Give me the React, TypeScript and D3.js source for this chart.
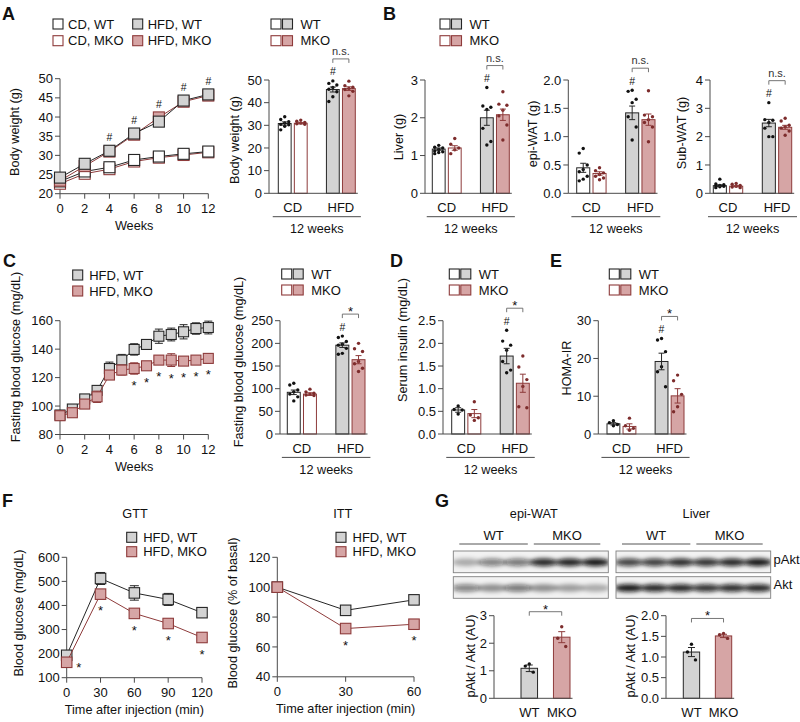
import React from "react";
import * as d3 from "d3";

const FONT = "'Liberation Sans', Arial, Helvetica, sans-serif";
const GRAY = "#d3d3d3";
const PINK = "#d6a5a5";
const RED = "#8e3b3b";
const DOTRED = "#7d2c2c";
const BLACK = "#262626";
const AXIS = "#4a4a4a";

// ---------- Panel A: body weight over time ----------
const weeksA = [0, 2, 4, 6, 8, 10, 12];
const bwCdWt = [23.2, 25.8, 26.9, 28.8, 29.7, 30.4, 31.0];
const bwCdWtErr = [0.6, 0.5, 0.5, 0.5, 0.5, 0.5, 0.6];
const bwCdMko = [22.6, 25.2, 26.4, 28.4, 29.4, 30.1, 30.8];
const bwCdMkoErr = [0.5, 0.4, 0.4, 0.4, 0.4, 0.4, 0.5];
const bwHfdWt = [24.2, 27.8, 31.2, 35.7, 38.8, 44.3, 45.9];
const bwHfdWtErr = [0.7, 0.7, 0.8, 0.9, 1.0, 1.0, 1.1];
const bwHfdMko = [23.4, 27.2, 31.0, 35.4, 39.9, 44.0, 45.6];
const bwHfdMkoErr = [0.6, 0.6, 0.7, 0.8, 0.9, 0.9, 0.8];
const bwHashWeeks = [4, 6, 8, 10, 12];

// Panel A: body weight at 12 weeks (CD-WT, CD-MKO, HFD-WT, HFD-MKO)
const bw12Means = [30.8, 30.9, 45.8, 46.2];
const bw12Errs = [0.7, 0.3, 1.1, 0.8];
const bw12Dots = [
  [33.8, 32.6, 31.6, 31.0, 30.4, 30.2, 29.6, 28.0],
  [32.3, 31.8, 31.3, 31.0, 30.7, 30.5],
  [49.6, 48.5, 47.8, 46.7, 45.9, 44.8, 42.6, 40.5],
  [49.5, 47.5, 46.8, 46.3, 45.8, 45.0, 43.0],
];

// Panel B
const liverMeans = [1.17, 1.2, 2.0, 2.08];
const liverErrs = [0.03, 0.06, 0.2, 0.15];
const liverDots = [
  [1.27, 1.22, 1.2, 1.16, 1.12, 1.1, 1.08, 1.05],
  [1.45, 1.3, 1.2, 1.15, 1.05],
  [2.8, 2.31, 2.28, 2.22, 1.72, 1.37, 1.28],
  [2.69, 2.36, 2.33, 2.2, 2.05, 1.81, 1.41],
];
const epiMeans = [0.45, 0.35, 1.42, 1.3];
const epiErrs = [0.08, 0.03, 0.12, 0.1];
const epiDots = [
  [0.79, 0.71, 0.5, 0.42, 0.38, 0.3, 0.25, 0.22],
  [0.45, 0.4, 0.36, 0.33, 0.3, 0.27, 0.24],
  [1.82, 1.8, 1.66, 1.6, 1.35, 1.17, 0.94],
  [1.81, 1.38, 1.35, 1.3, 1.25, 1.17, 0.91],
];
const subMeans = [0.27, 0.25, 2.48, 2.33];
const subErrs = [0.03, 0.02, 0.13, 0.07];
const subDots = [
  [0.5, 0.33, 0.3, 0.28, 0.26, 0.25, 0.23, 0.2],
  [0.35, 0.32, 0.28, 0.25, 0.22, 0.2],
  [3.2, 2.6, 2.58, 2.5, 2.3, 2.0, 2.0],
  [2.65, 2.55, 2.4, 2.35, 2.3, 2.2, 2.05],
];

// Panel C: fasting blood glucose weekly
const weeksC = [0, 1, 2, 3, 4, 5, 6, 7, 8, 9, 10, 11, 12];
const fbgWt = [93.7, 97.9, 105, 111, 126.4, 132.3, 139.8, 143.3, 149.1, 150.3, 152.2, 154.5, 155.2];
const fbgWtErr = [3, 2.5, 2, 2.5, 4.5, 4, 4, 2.5, 5, 4.5, 5, 4, 4.5];
const fbgMko = [93.2, 95.3, 101.4, 106.5, 121.8, 125.3, 126.4, 128.3, 132.3, 132.3, 131.6, 132.3, 133.5];
const fbgMkoErr = [3, 2, 2, 4, 3, 3.5, 4, 2.5, 3, 4.5, 3, 2, 3];
const fbgStarWeeks = [6, 7, 8, 9, 10, 11, 12];

const fbg12Means = [92, 88, 196, 164];
const fbg12Errs = [5, 3, 5, 9];
const fbg12Dots = [
  [112, 108, 97, 93, 88, 82, 73],
  [99, 93, 90, 88, 86, 85],
  [216, 213, 204, 198, 196, 189, 178, 176],
  [200, 188, 182, 160, 155, 145, 138],
];

// Panel D: serum insulin
const insMeans = [0.53, 0.45, 1.72, 1.12];
const insErrs = [0.05, 0.09, 0.17, 0.2];
const insDots = [
  [0.62, 0.54, 0.53, 0.44],
  [0.71, 0.42, 0.36, 0.3],
  [2.29, 2.05, 1.96, 1.85, 1.6, 1.41, 1.35],
  [1.72, 1.48, 1.2, 1.05, 0.6, 0.58],
];

// Panel E: HOMA-IR
const homaMeans = [2.7, 2.0, 19.2, 10.1];
const homaErrs = [0.3, 0.7, 2.2, 1.9];
const homaDots = [
  [3.5, 3.0, 2.5, 2.2],
  [4.2, 2.2, 1.5, 1.0],
  [25.3, 24.9, 21.8, 17.8, 16.5, 12.5],
  [15.6, 14.1, 10.5, 7.2, 5.9],
];

// Panel F: GTT / ITT
const tGtt = [0, 30, 60, 90, 120];
const gttWt = [193, 512, 452, 425, 370];
const gttWtErr = [10, 25, 30, 25, 18];
const gttMko = [164, 447, 367, 325, 267];
const gttMkoErr = [12, 15, 10, 8, 10];
const tItt = [0, 30, 60];
const ittWt = [100, 84.5, 91.5];
const ittWtErr = [0, 2.5, 3];
const ittMko = [100, 72.3, 75.2];
const ittMkoErr = [0, 2, 1.5];

// Panel G: western blot band intensities (6 lanes: 3 WT, 3 MKO) and quantification
const epiPakt = [0.3, 0.5, 0.55, 0.9, 0.92, 0.97];
const epiAkt = [0.5, 0.42, 0.55, 0.42, 0.36, 0.3];
const livPakt = [0.78, 0.8, 0.88, 0.85, 0.9, 0.97];
const livAkt = [0.97, 0.9, 0.9, 0.85, 0.88, 0.9];
const gEpiMeans = [1.09, 2.22];
const gEpiErrs = [0.12, 0.2];
const gEpiDots = [[1.25, 1.17, 0.95], [2.6, 2.18, 1.88]];
const gLivMeans = [1.12, 1.51];
const gLivErrs = [0.11, 0.04];
const gLivDots = [[1.31, 1.12, 0.93], [1.57, 1.54, 1.45]];

// ---------- styles ----------
type Sty = { fill: string; stroke: string; dot: string };
const S_CDWT: Sty = { fill: "#ffffff", stroke: BLACK, dot: "#111" };
const S_CDMKO: Sty = { fill: "#ffffff", stroke: RED, dot: DOTRED };
const S_HWT: Sty = { fill: GRAY, stroke: BLACK, dot: "#111" };
const S_HMKO: Sty = { fill: PINK, stroke: RED, dot: DOTRED };
const STYS = [S_CDWT, S_CDMKO, S_HWT, S_HMKO];
const KEYS: [string, string][] = [["CD", "WT"], ["CD", "MKO"], ["HFD", "WT"], ["HFD", "MKO"]];
const JIT = [0, -4, 4];
const FS = 13;

function Txt({ x, y, s = FS, a = "start", w = 400, fill = "#111", rot = false, children }: any) {
  const t = rot ? `translate(${x},${y}) rotate(-90)` : undefined;
  return (
    <text x={rot ? 0 : x} y={rot ? 0 : y} transform={t} fontSize={s} textAnchor={a}
      fontWeight={w} fill={fill} fontFamily={FONT}>{children}</text>
  );
}

function YAxis({ x, scale, ticks, fmt }: any) {
  const r = scale.range();
  return (
    <g>
      <line x1={x} x2={x} y1={r[0]} y2={r[1]} stroke={AXIS} strokeWidth={1} />
      {ticks.map((t: number) => (
        <g key={t}>
          <line x1={x - 5} x2={x} y1={scale(t)} y2={scale(t)} stroke={AXIS} />
          <Txt x={x - 7} y={scale(t) + 4.6} a="end">{fmt(t)}</Txt>
        </g>
      ))}
    </g>
  );
}

function Legend({ x, y, sq, label, gap = 5, size = 10 }: any) {
  const end = x + sq.length * size + (sq.length - 1) * 1.5;
  return (
    <g>
      {sq.map((s: Sty, i: number) => (
        <rect key={i} x={x + i * (size + 1.5)} y={y} width={size} height={size}
          fill={s.fill} stroke={s.stroke} strokeWidth={1.1} />
      ))}
      <Txt x={end + gap} y={y + 9.6}>{label}</Txt>
    </g>
  );
}

function ErrBar({ x, y1, y2, color, cap = 3.5 }: any) {
  return (
    <g stroke={color} strokeWidth={1}>
      <line x1={x} x2={x} y1={y1} y2={y2} />
      <line x1={x - cap} x2={x + cap} y1={y1} y2={y1} />
      <line x1={x - cap} x2={x + cap} y1={y2} y2={y2} />
    </g>
  );
}

type Series = { y: number[]; err: number[]; sty: Sty };

function LineChart(p: any) {
  const x = d3.scaleLinear().domain(p.xDomain).range(p.xRange);
  const y = d3.scaleLinear().domain(p.yDomain).range(p.yRange);
  const y0 = p.yRange[0];
  const x0 = p.xRange[0];
  const h = p.m / 2;
  const fmt = d3.format("d");
  const series: Series[] = p.series;
  const idx = (v: number) => p.xs.indexOf(v);
  return (
    <g>
      <YAxis x={x0} scale={y} ticks={p.yTicks} fmt={fmt} />
      <line x1={x0} x2={p.xRange[1]} y1={y0} y2={y0} stroke={AXIS} />
      {p.xTicks.map((t: number) => (
        <g key={t}>
          <line x1={x(t)} x2={x(t)} y1={y0} y2={y0 + 5} stroke={AXIS} />
          <Txt x={x(t)} y={y0 + 19} a="middle">{t}</Txt>
        </g>
      ))}
      <Txt x={p.xLabelX ?? (p.xRange[0] + p.xRange[1]) / 2} y={y0 + 36.3} a="middle" s={12.7}>{p.xLabel}</Txt>
      <Txt x={p.yLabelX} y={p.yLabelY} a="middle" rot s={12.7}>{p.yLabel}</Txt>
      {series.map((s, k) => {
        const line = d3.line<number>().x((_, i) => x(p.xs[i])).y((v) => y(v));
        return (
          <g key={k}>
            <path d={line(s.y) || ""} fill="none" stroke={s.sty.stroke} strokeWidth={1} />
            {s.y.map((v, i) =>
              s.err[i] > 0 ? (
                <ErrBar key={"e" + i} x={x(p.xs[i])} y1={y(v + s.err[i])} y2={y(v - s.err[i])}
                  color={s.sty.stroke} cap={p.cap ?? 4} />
              ) : null
            )}
            {s.y.map((v, i) => (
              <rect key={"r" + i} x={x(p.xs[i]) - h} y={y(v) - h} width={p.m} height={p.m}
                fill={s.sty.fill} stroke={s.sty.stroke} strokeWidth={1.1} />
            ))}
          </g>
        );
      })}
      {(p.hashes || []).map((w: number) => {
        const i = idx(w);
        const top = d3.min(series, (s) => Math.min(y(s.y[i]) - h, y(s.y[i] + s.err[i])))!;
        return <Txt key={"h" + w} x={x(w)} y={top - 4} a="middle" s={10.5}>#</Txt>;
      })}
      {(p.stars || []).map((st: any) => {
        const i = idx(st.x);
        const s = series[p.starSeries];
        const v = s.y[i];
        if (st.right) {
          return <Txt key={"s" + st.x} x={x(st.x) + 12} y={y(v) + 10} a="middle" s={13}>*</Txt>;
        }
        const bottom = Math.max(y(v) + h, y(v - s.err[i]));
        return <Txt key={"s" + st.x} x={x(st.x)} y={bottom + 16} a="middle" s={13}>*</Txt>;
      })}
    </g>
  );
}

function Dots({ cx, vals, scale, color }: any) {
  const sorted = [...vals].sort((a: number, b: number) => b - a);
  return (
    <g>
      {sorted.map((v: number, i: number) => (
        <circle key={i} cx={cx + JIT[i % 3]} cy={scale(v)} r={1.7} fill={color} />
      ))}
    </g>
  );
}

function Bracket({ x1, x2, y, label }: any) {
  const ns = label === "n.s.";
  return (
    <g>
      <path d={`M${x1},${y + 4}V${y}H${x2}V${y + 4}`} fill="none" stroke="#666" strokeWidth={0.9} />
      {ns ? (
        <Txt x={(x1 + x2) / 2} y={y - 4} a="middle" s={11} fill="#333">{label}</Txt>
      ) : (
        <Txt x={(x1 + x2) / 2} y={y + 1.8} a="middle" s={13}>{label}</Txt>
      )}
    </g>
  );
}

function GroupBar(p: any) {
  const y = d3.scaleLinear().domain([0, p.yMax]).range(p.yRange);
  const gx = d3.scaleBand<string>().domain(["CD", "HFD"]).range(p.groupRange).paddingInner(0.4);
  const sx = d3.scaleBand<string>().domain(["WT", "MKO"]).range([0, gx.bandwidth()]).paddingInner(0.2);
  const bw = sx.bandwidth();
  const bx = (k: number) => (gx(KEYS[k][0]) as number) + (sx(KEYS[k][1]) as number);
  const bc = (k: number) => bx(k) + bw / 2;
  const gc = (g: string) => (gx(g) as number) + gx.bandwidth() / 2;
  const y0 = p.yRange[0];
  const xEnd = bx(3) + bw + 2.5;
  const topOf = (k: number) => y(Math.max(d3.max(p.dots[k] as number[])!, p.means[k] + p.errs[k]));
  const hashY = topOf(2) - 5.5;
  const brY = Math.min(topOf(2), topOf(3)) - 22;
  return (
    <g>
      <YAxis x={p.axisX} scale={y} ticks={p.ticks} fmt={p.fmt} />
      {KEYS.map((_, k) => (
        <rect key={k} x={bx(k)} y={y(p.means[k])} width={bw} height={y0 - y(p.means[k])}
          fill={STYS[k].fill} stroke={STYS[k].stroke} strokeWidth={1} />
      ))}
      {KEYS.map((_, k) => (
        <Dots key={"d" + k} cx={bc(k)} vals={p.dots[k]} scale={y} color={STYS[k].dot} />
      ))}
      {KEYS.map((_, k) => (
        <ErrBar key={"e" + k} x={bc(k)} y1={y(p.means[k] + p.errs[k])} y2={y(p.means[k] - p.errs[k])}
          color={STYS[k].stroke} cap={3} />
      ))}
      <line x1={p.axisX} x2={xEnd} y1={y0} y2={y0} stroke={AXIS} />
      {["CD", "HFD"].map((g) => (
        <Txt key={g} x={gc(g)} y={y0 + 18.7} a="middle">{g}</Txt>
      ))}
      <line x1={gc("CD") - 20} x2={gc("HFD") + 20} y1={y0 + 23.4} y2={y0 + 23.4} stroke={AXIS} />
      <Txt x={(gc("CD") + gc("HFD")) / 2} y={y0 + 40} a="middle" s={12.7}>12 weeks</Txt>
      <Txt x={bc(2)} y={hashY} a="middle" s={10.5}>#</Txt>
      <Bracket x1={bc(2)} x2={bc(3)} y={brY} label={p.sig} />
      <Txt x={p.yLabelX} y={p.yLabelY} a="middle" rot s={12.7}>{p.yLabel}</Txt>
    </g>
  );
}

function PairBar(p: any) {
  const y = d3.scaleLinear().domain([0, p.yMax]).range(p.yRange);
  const bxs = d3.scaleBand<string>().domain(["WT", "MKO"]).range(p.range).paddingInner(0.49);
  const bw = bxs.bandwidth();
  const cats = ["WT", "MKO"];
  const sty = [S_HWT, S_HMKO];
  const y0 = p.yRange[0];
  const bc = (c: string) => (bxs(c) as number) + bw / 2;
  const topOf = (k: number) => y(Math.max(d3.max(p.dots[k] as number[])!, p.means[k] + p.errs[k]));
  const brY = Math.min(topOf(0), topOf(1)) - 15;
  return (
    <g>
      <YAxis x={p.axisX} scale={y} ticks={p.ticks} fmt={p.fmt} />
      {cats.map((c, k) => (
        <rect key={c} x={bxs(c)} y={y(p.means[k])} width={bw} height={y0 - y(p.means[k])}
          fill={sty[k].fill} stroke={sty[k].stroke} strokeWidth={1} />
      ))}
      {cats.map((c, k) => (
        <Dots key={"d" + c} cx={bc(c)} vals={p.dots[k]} scale={y} color={sty[k].dot} />
      ))}
      {cats.map((c, k) => (
        <ErrBar key={"e" + c} x={bc(c)} y1={y(p.means[k] + p.errs[k])} y2={y(p.means[k] - p.errs[k])}
          color={sty[k].stroke} cap={3.5} />
      ))}
      <line x1={p.axisX} x2={(bxs("MKO") as number) + bw + 2.5} y1={y0} y2={y0} stroke={AXIS} />
      {cats.map((c) => (
        <Txt key={"l" + c} x={bc(c)} y={y0 + 18.4} a="middle">{c}</Txt>
      ))}
      <Bracket x1={bc("WT")} x2={bc("MKO")} y={brY} label="*" />
      <Txt x={p.yLabelX} y={p.yLabelY} a="middle" rot s={12.7}>{p.yLabel}</Txt>
    </g>
  );
}

function Blot({ x0, x1, y0, y1, vals, id }: any) {
  const lane = d3.scaleBand<number>().domain(d3.range(vals.length)).range([x0, x1]);
  const cy = (y0 + y1) / 2 + 0.5;
  return (
    <g>
      <clipPath id={id}>
        <rect x={x0} y={y0} width={x1 - x0} height={y1 - y0} />
      </clipPath>
      <rect x={x0} y={y0} width={x1 - x0} height={y1 - y0} fill="#f2f2f2" />
      <g clipPath={`url(#${id})`}>
        <g filter="url(#blotBlur)">
          {vals.map((v: number, i: number) => (
            <ellipse key={i} cx={(lane(i) as number) + lane.bandwidth() / 2} cy={cy}
              rx={lane.bandwidth() * 0.56} ry={3.8} fill="#0d0d0d" opacity={v} />
          ))}
        </g>
      </g>
      <rect x={x0} y={y0} width={x1 - x0} height={y1 - y0} fill="none" stroke="#808080" strokeWidth={0.9} />
    </g>
  );
}

function BlotPanel({ x0, x1, title, pakt, akt, id }: any) {
  const lane = d3.scaleBand<number>().domain(d3.range(pakt.length)).range([x0, x1]);
  const bw = lane.bandwidth();
  const wt: [number, number] = [(lane(0) as number) + 6, (lane(2) as number) + bw - 3];
  const mk: [number, number] = [(lane(3) as number) + 3, (lane(5) as number) + bw - 8];
  return (
    <g>
      <Txt x={(x0 + x1) / 2 + 3} y={518.3} a="middle" s={12.7}>{title}</Txt>
      <Txt x={(wt[0] + wt[1]) / 2} y={540} a="middle">WT</Txt>
      <Txt x={(mk[0] + mk[1]) / 2} y={540} a="middle">MKO</Txt>
      <line x1={wt[0]} x2={wt[1]} y1={544} y2={544} stroke="#555" />
      <line x1={mk[0]} x2={mk[1]} y1={544} y2={544} stroke="#555" />
      <Blot x0={x0} x1={x1} y0={551} y1={572.7} vals={pakt} id={id + "p"} />
      <Blot x0={x0} x1={x1} y0={576.7} y1={598.3} vals={akt} id={id + "a"} />
    </g>
  );
}

export default function App() {
  const f1 = d3.format("d");
  const f1d = d3.format(".1f");
  return (
    <svg width={800} height={722} viewBox="0 0 800 722"
      style={{ position: "absolute", left: 0, top: 0, background: "#fff" }}>
      <defs>
        <filter id="blotBlur" x="-50%" y="-100%" width="200%" height="300%">
          <feGaussianBlur stdDeviation="2.2" />
        </filter>
      </defs>
      <rect width={800} height={722} fill="#fff" />

      {/* Panel letters */}
      <Txt x={2} y={20} s={18} w={700}>A</Txt>
      <Txt x={383} y={19.5} s={18} w={700}>B</Txt>
      <Txt x={3} y={267} s={18} w={700}>C</Txt>
      <Txt x={390} y={266.7} s={18} w={700}>D</Txt>
      <Txt x={550} y={267} s={18} w={700}>E</Txt>
      <Txt x={2} y={507} s={18} w={700}>F</Txt>
      <Txt x={435} y={506.7} s={18} w={700}>G</Txt>

      {/* ---------- A ---------- */}
      <Legend x={53} y={19} sq={[S_CDWT]} label="CD, WT" />
      <Legend x={53} y={35.7} sq={[S_CDMKO]} label="CD, MKO" />
      <Legend x={132.7} y={19} sq={[S_HWT]} label="HFD, WT" />
      <Legend x={132.7} y={35.7} sq={[S_HMKO]} label="HFD, MKO" />
      <LineChart xDomain={[0, 12]} xRange={[60, 208.3]} yDomain={[20, 50]} yRange={[193.7, 78.7]}
        xTicks={d3.range(0, 13, 2)} yTicks={d3.range(20, 51, 5)} xs={weeksA} m={11}
        series={[
          { y: bwCdMko, err: bwCdMkoErr, sty: S_CDMKO },
          { y: bwCdWt, err: bwCdWtErr, sty: S_CDWT },
          { y: bwHfdMko, err: bwHfdMkoErr, sty: S_HMKO },
          { y: bwHfdWt, err: bwHfdWtErr, sty: S_HWT },
        ]}
        hashes={bwHashWeeks} xLabel="Weeks" yLabel="Body weight (g)" yLabelX={19} yLabelY={132} />

      <Legend x={271} y={19} sq={[S_CDWT, S_HWT]} label="WT" gap={8} />
      <Legend x={271} y={35.7} sq={[S_CDMKO, S_HMKO]} label="MKO" gap={8} />
      <GroupBar axisX={269} groupRange={[278.3, 355.3]} yMax={50} yRange={[193.3, 80]}
        ticks={d3.range(0, 51, 10)} fmt={f1} means={bw12Means} errs={bw12Errs} dots={bw12Dots}
        sig="n.s." yLabel="Body weight (g)" yLabelX={238.5} yLabelY={140} />

      {/* ---------- B ---------- */}
      <Legend x={440} y={19} sq={[S_CDWT, S_HWT]} label="WT" gap={8} />
      <Legend x={440} y={35.7} sq={[S_CDMKO, S_HMKO]} label="MKO" gap={8} />
      <GroupBar axisX={425} groupRange={[432.3, 509.3]} yMax={3} yRange={[193.3, 80]}
        ticks={[0, 1, 2, 3]} fmt={f1} means={liverMeans} errs={liverErrs} dots={liverDots}
        sig="n.s." yLabel="Liver (g)" yLabelX={402.5} yLabelY={137} />
      <GroupBar axisX={568.3} groupRange={[576.7, 655]} yMax={2} yRange={[193.3, 80]}
        ticks={[0, 0.5, 1, 1.5, 2]} fmt={f1d} means={epiMeans} errs={epiErrs} dots={epiDots}
        sig="n.s." yLabel="epi-WAT (g)" yLabelX={536.5} yLabelY={134} />
      <GroupBar axisX={710} groupRange={[713.3, 791.7]} yMax={4} yRange={[193.3, 80]}
        ticks={[0, 1, 2, 3, 4]} fmt={f1} means={subMeans} errs={subErrs} dots={subDots}
        sig="n.s." yLabel="Sub-WAT (g)" yLabelX={686} yLabelY={133} />

      {/* ---------- C ---------- */}
      <Legend x={72.7} y={270} sq={[S_HWT]} label="HFD, WT" gap={6.5} />
      <Legend x={72.7} y={286} sq={[S_HMKO]} label="HFD, MKO" gap={6.5} />
      <LineChart xDomain={[0, 12]} xRange={[60, 208.3]} yDomain={[80, 160]} yRange={[434.5, 320.7]}
        xTicks={d3.range(0, 13, 2)} yTicks={d3.range(80, 161, 20)} xs={weeksC} m={10} cap={4}
        series={[
          { y: fbgWt, err: fbgWtErr, sty: S_HWT },
          { y: fbgMko, err: fbgMkoErr, sty: S_HMKO },
        ]}
        starSeries={1} stars={fbgStarWeeks.map((w) => ({ x: w }))}
        xLabel="Weeks" yLabel="Fasting blood glucose (mg/dL)" yLabelX={20} yLabelY={357} />

      <Legend x={281.7} y={269} sq={[S_CDWT, S_HWT]} label="WT" gap={8} />
      <Legend x={281.7} y={285} sq={[S_CDMKO, S_HMKO]} label="MKO" gap={8} />
      <GroupBar axisX={280} groupRange={[287.3, 365]} yMax={250} yRange={[434, 320.7]}
        ticks={d3.range(0, 251, 50)} fmt={f1} means={fbg12Means} errs={fbg12Errs} dots={fbg12Dots}
        sig="*" yLabel="Fasting blood glucose (mg/dL)" yLabelX={243} yLabelY={362} />

      {/* ---------- D ---------- */}
      <Legend x={449.3} y={269} sq={[S_CDWT, S_HWT]} label="WT" gap={8} />
      <Legend x={449.3} y={285} sq={[S_CDMKO, S_HMKO]} label="MKO" gap={8} />
      <GroupBar axisX={443} groupRange={[451.7, 529.3]} yMax={2.5} yRange={[434, 320.7]}
        ticks={[0, 0.5, 1, 1.5, 2, 2.5]} fmt={f1d} means={insMeans} errs={insErrs} dots={insDots}
        sig="*" yLabel="Serum insulin (mg/dL)" yLabelX={406.5} yLabelY={340} />

      {/* ---------- E ---------- */}
      <Legend x={609.3} y={269} sq={[S_CDWT, S_HWT]} label="WT" gap={8} />
      <Legend x={609.3} y={285} sq={[S_CDMKO, S_HMKO]} label="MKO" gap={8} />
      <GroupBar axisX={598.3} groupRange={[607, 684]} yMax={30} yRange={[434, 320.7]}
        ticks={[0, 10, 20, 30]} fmt={f1} means={homaMeans} errs={homaErrs} dots={homaDots}
        sig="*" yLabel="HOMA-IR" yLabelX={571} yLabelY={368} />

      {/* ---------- F ---------- */}
      <Txt x={135} y={518.3} a="middle" s={12.7}>GTT</Txt>
      <Legend x={126.7} y={532.3} sq={[S_HWT]} label="HFD, WT" gap={6.5} />
      <Legend x={126.7} y={546.7} sq={[S_HMKO]} label="HFD, MKO" gap={6.5} />
      <LineChart xDomain={[0, 120]} xRange={[66.7, 202]} yDomain={[100, 600]} yRange={[677.7, 557.3]}
        xTicks={tGtt} yTicks={d3.range(100, 601, 100)} xs={tGtt} m={10.5} cap={4.5}
        series={[
          { y: gttWt, err: gttWtErr, sty: S_HWT },
          { y: gttMko, err: gttMkoErr, sty: S_HMKO },
        ]}
        starSeries={1}
        stars={[{ x: 0, right: true }, { x: 30 }, { x: 60 }, { x: 90 }, { x: 120 }]}
        xLabel="Time after injection (min)" yLabel="Blood glucose (mg/dL)" yLabelX={22.5} yLabelY={613} />

      <Txt x={342.7} y={518.3} a="middle" s={12.7}>ITT</Txt>
      <Legend x={336} y={532.3} sq={[S_HWT]} label="HFD, WT" gap={6.5} />
      <Legend x={336} y={546.7} sq={[S_HMKO]} label="HFD, MKO" gap={6.5} />
      <LineChart xDomain={[0, 60]} xRange={[277.3, 414]} yDomain={[40, 120]} yRange={[676.8, 557.3]}
        xTicks={tItt} yTicks={d3.range(40, 121, 20)} xs={tItt} m={10.5} cap={4.5}
        series={[
          { y: ittWt, err: ittWtErr, sty: S_HWT },
          { y: ittMko, err: ittMkoErr, sty: S_HMKO },
        ]}
        starSeries={1} stars={[{ x: 30 }, { x: 60 }]}
        xLabel="Time after injection (min)" yLabel="Blood glucose (% of basal)" yLabelX={237} yLabelY={613} />

      {/* ---------- G ---------- */}
      <BlotPanel x0={453.3} x1={608.3} title="epi-WAT" pakt={epiPakt} akt={epiAkt} id="be" />
      <BlotPanel x0={616} x1={770.7} title="Liver" pakt={livPakt} akt={livAkt} id="bl" />
      <Txt x={773.5} y={564} >pAkt</Txt>
      <Txt x={773.5} y={588.5} >Akt</Txt>
      <PairBar axisX={494} range={[521, 570]} yMax={3} yRange={[698.3, 615.7]} ticks={[0, 1, 2, 3]}
        fmt={f1} means={gEpiMeans} errs={gEpiErrs} dots={gEpiDots}
        yLabel="pAkt / Akt (AU)" yLabelX={475} yLabelY={656} />
      <PairBar axisX={666} range={[683.3, 731.7]} yMax={2} yRange={[698.3, 615.7]} ticks={[0, 0.5, 1, 1.5, 2]}
        fmt={f1d} means={gLivMeans} errs={gLivErrs} dots={gLivDots}
        yLabel="pAkt / Akt (AU)" yLabelX={634.5} yLabelY={656} />
    </svg>
  );
}
